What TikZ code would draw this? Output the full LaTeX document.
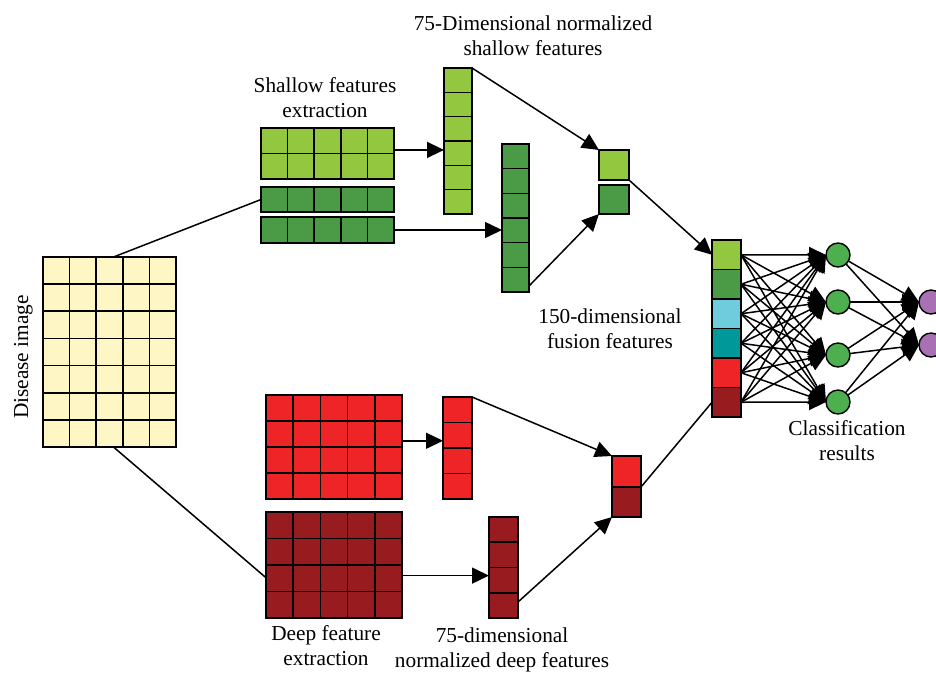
\documentclass[tikz,border=0pt]{standalone}
\usepackage{fontspec}
\setmainfont{Liberation Serif}
\usetikzlibrary{fit,calc,arrows.meta}

\definecolor{paleyellow}{HTML}{FFF6C6}
\definecolor{leafgreen}{HTML}{93C73F}
\definecolor{darkgreen}{HTML}{4B9A46}
\definecolor{skycyan}{HTML}{6FCCDC}
\definecolor{tealc}{HTML}{009898}
\definecolor{brightred}{HTML}{EE2427}
\definecolor{darkred}{HTML}{981B1F}
\definecolor{nodegreen}{HTML}{4DAF4E}
\definecolor{nodepurple}{HTML}{A970B3}

\tikzset{
  cellbox/.style={draw=black, line width=1.6pt, inner sep=0pt, outer sep=0pt},
  gline/.style={line width=1.6pt},
  link/.style={line width=1.5pt},
  arrowlink/.style={link, -{Triangle[length=17pt,width=16pt]}},
  neuron/.style={circle, draw=black, line width=1.4pt, minimum size=24pt, inner sep=0pt, outer sep=0pt},
  annot/.style={font=\fontsize{21.3}{25.5}\selectfont, inner sep=0pt, anchor=base},
}

% two centred lines, first baseline on the node's base
\newcommand\twolines[2]{\begin{tabular}[t]{@{}c@{}}#1\\#2\end{tabular}}

% a filled block of cells: name, left, top, right, bottom, columns, rows, colour
\newcommand\featgrid[8]{%
  \node[cellbox, fill=#8, fit={(#2,#3) (#4,#5)}] (#1) {};
  \pgfmathtruncatemacro\gridcols{#6-1}%
  \pgfmathtruncatemacro\gridrows{#7-1}%
  \ifnum\gridcols>0
    \foreach \k in {1,...,\gridcols}
      \draw[gline] ($(#1.north west)!\k/#6!(#1.north east)$) -- ($(#1.south west)!\k/#6!(#1.south east)$);
  \fi
  \ifnum\gridrows>0
    \foreach \k in {1,...,\gridrows}
      \draw[gline] ($(#1.north west)!\k/#7!(#1.south west)$) -- ($(#1.north east)!\k/#7!(#1.south east)$);
  \fi
}

\begin{document}
\begin{tikzpicture}[x=1pt,y=-1pt]
\useasboundingbox (0,0) rectangle (936,673);
\clip (0,0) rectangle (936,673);

% input image
\featgrid{img}{43}{257}{176}{447}{5}{7}{paleyellow}
\node[annot, rotate=90] (imgtext) at (28,357) {Disease image};

% shallow branch
\featgrid{shl}{261}{128}{394}{179}{5}{2}{leafgreen}
\featgrid{shd1}{261}{187}{394}{212}{5}{1}{darkgreen}
\featgrid{shd2}{261}{217}{394}{243}{5}{1}{darkgreen}
\featgrid{vecl}{444}{68}{472}{214}{1}{6}{leafgreen}
\featgrid{vecd}{502}{144}{529}{292}{1}{6}{darkgreen}
\node[cellbox, fill=leafgreen, fit={(599,150) (629,180)}] (sql) {};
\node[cellbox, fill=darkgreen, fit={(599,185) (629,214)}] (sqd) {};

% deep branch
\featgrid{dpr}{266}{395}{402}{499}{5}{4}{brightred}
\featgrid{dpd}{266}{512}{402}{618}{5}{4}{darkred}
\featgrid{vecr}{443}{397}{472}{499}{1}{4}{brightred}
\featgrid{vecdr}{489}{517}{518}{618}{1}{4}{darkred}
\node[cellbox, fill=brightred, fit={(612,456) (641,487)}] (sqr) {};
\node[cellbox, fill=darkred, fit={(612,487) (641,517)}] (sqdr) {};

% fused feature vector
\foreach \c [count=\i] in {leafgreen,darkgreen,skycyan,tealc,brightred,darkred} {
  \pgfmathsetmacro\ytop{240+(\i-1)*29.5}
  \pgfmathsetmacro\ybot{240+\i*29.5}
  \node[cellbox, fill=\c, fit={(712,\ytop) (741,\ybot)}] (f\i) {};
}

% classifier neurons
\foreach \y [count=\j] in {255,302,355,402}
  \node[neuron, fill=nodegreen] (g\j) at (838,\y) {};
\foreach \y [count=\j] in {302,345}
  \node[neuron, fill=nodepurple] (p\j) at (931,\y) {};

% end points of the connectors
\coordinate (imgtop) at ($(img.north west)!0.53!(img.north east)$);
\coordinate (imgbot) at ($(img.south west)!0.53!(img.south east)$);
\coordinate (ddin) at ($(dpd.north west)!0.62!(dpd.south west)$);
\coordinate (shlout) at ($(shl.north east)!0.43!(shl.south east)$);
\coordinate (veclin) at (shlout -| vecl.west);
\coordinate (vecdin) at (shd2.east -| vecd.west);
\coordinate (vecdout) at ($(vecd.south east)+(0,-6)$);
\coordinate (dprout) at ($(dpr.north east)!0.44!(dpr.south east)$);
\coordinate (vecrin) at (dprout -| vecr.west);
\coordinate (dpdout) at ($(dpd.north east)!0.6!(dpd.south east)$);
\coordinate (vecdrin) at (dpdout -| vecdr.west);
\coordinate (vecdrout) at ($(vecdr.south east)+(0,-16)$);

% connectors of the two branches
\draw[link] (imgtop) -- (shd1.west);
\draw[link] (imgbot) -- (ddin);
\draw[arrowlink] (shlout) -- (veclin);
\draw[arrowlink] (shd2.east) -- (vecdin);
\draw[arrowlink] (vecl.north east) -- (sql.north west);
\draw[arrowlink] (vecdout) -- (sqd.south west);
\draw[arrowlink] (sql.south east) -- (f1.west);
\draw[arrowlink] (dprout) -- (vecrin);
\draw[arrowlink] (dpdout) -- (vecdrin);
\draw[arrowlink] (vecr.north east) -- (sqr.north west);
\draw[arrowlink] (vecdrout) -- (sqdr.south west);
\draw[link] (sqr.south east) -- (f6.west);

% fully connected layers
\foreach \i in {1,...,6}
  \foreach \j in {1,...,4}
    \draw[arrowlink] (f\i.east) -- (g\j.west);
\foreach \j in {1,...,4}
  \foreach \k in {1,2}
    \draw[arrowlink] (g\j) -- (p\k.west);

% captions
\node[annot] (capnorm) at (533,30) {\twolines{75-Dimensional normalized}{shallow features}};
\node[annot] (capshallow) at (325,92) {\twolines{Shallow features}{extraction}};
\node[annot] (capfusion) at (610,323) {\twolines{150-dimensional}{fusion features}};
\node[annot] (capclass) at (847,435) {\twolines{Classification}{results}};
\node[annot] (capdeep) at (326,640) {\twolines{Deep feature}{extraction}};
\node[annot] (capdeepnorm) at (502,642) {\twolines{75-dimensional}{normalized deep features}};
\end{tikzpicture}
\end{document}
